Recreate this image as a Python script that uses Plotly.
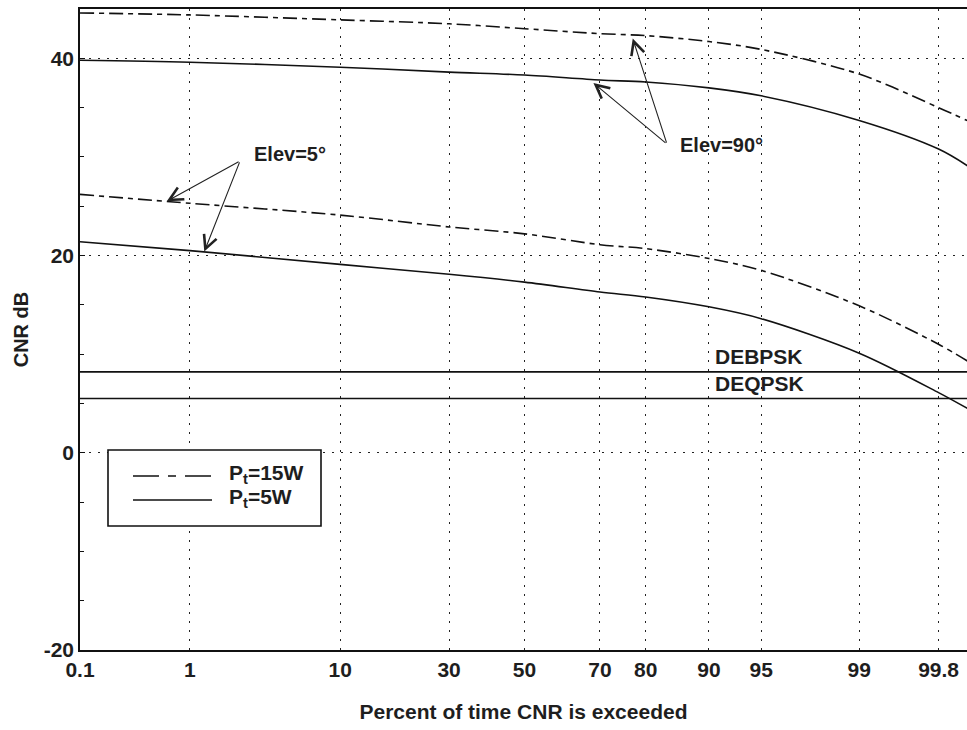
from statistics import NormalDist
import plotly.graph_objects as go

# ---------------- data ----------------
pct = [0.1, 1, 10, 30, 50, 70, 80, 90, 95, 99, 99.8, 99.9]
cnr_elev90_15w = [44.6, 44.4, 43.9, 43.5, 43.0, 42.5, 42.3, 41.7, 40.9, 38.4, 35.0, 33.6]
cnr_elev90_5w = [39.8, 39.6, 39.1, 38.6, 38.3, 37.8, 37.6, 37.0, 36.2, 33.7, 30.8, 29.0]
cnr_elev5_15w = [26.2, 25.3, 24.1, 22.9, 22.2, 21.1, 20.7, 19.7, 18.5, 14.9, 11.0, 9.2]
cnr_elev5_5w = [21.4, 20.5, 19.1, 18.1, 17.3, 16.3, 15.8, 14.8, 13.6, 10.1, 6.1, 4.4]

thr_names = ["DEBPSK", "DEQPSK"]
thr_values = [8.2, 5.5]

tick_pct = [0.1, 1, 10, 30, 50, 70, 80, 90, 95, 99, 99.8]
tick_text = ["0.1", "1", "10", "30", "50", "70", "80", "90", "95", "99", "99.8"]
y_ticks = [-20, 0, 20, 40]
y_tick_text = ["-20", "0", "20", "40"]

legend_labels = ["P<sub>t</sub>=15W", "P<sub>t</sub>=5W"]

# ---------------- helpers ----------------
nd = NormalDist()


def z(p):
    return nd.inv_cdf(p / 100.0)


zx = [z(p) for p in pct]

DASHDOT = "14px,5px,5px,5px"
LINE_COLOR = "#111111"
FONT = "Liberation Sans, Arial, sans-serif"
TXT = "#1e1e1e"

fig = go.Figure()

curves = [
    (cnr_elev90_15w, DASHDOT),
    (cnr_elev90_5w, "solid"),
    (cnr_elev5_15w, DASHDOT),
    (cnr_elev5_5w, "solid"),
]
for vals, dash in curves:
    fig.add_trace(go.Scatter(
        x=zx, y=vals, mode="lines",
        line=dict(color=LINE_COLOR, width=1.6, dash=dash, shape="spline", smoothing=0.9),
        showlegend=False, hoverinfo="skip",
    ))

for name, val in zip(thr_names, thr_values):
    fig.add_trace(go.Scatter(
        x=[zx[0], zx[-1]], y=[val, val], mode="lines",
        line=dict(color=LINE_COLOR, width=1.6),
        showlegend=False, hoverinfo="skip",
    ))

annotations = []
# threshold labels
for name, val in zip(thr_names, thr_values):
    annotations.append(dict(
        x=z(90.5), y=val, xref="x", yref="y", text="<b>%s</b>" % name,
        showarrow=False, xanchor="left", yanchor="bottom", yshift=2,
        font=dict(family=FONT, size=21, color=TXT),
    ))

# Elev labels
annotations.append(dict(x=z(5.17), y=30.3, xref="x", yref="y", text="<b>Elev=5°</b>",
                        showarrow=False, font=dict(family=FONT, size=20, color=TXT)))
annotations.append(dict(x=z(91.5), y=31.2, xref="x", yref="y", text="<b>Elev=90°</b>",
                        showarrow=False, font=dict(family=FONT, size=20, color=TXT)))

# arrows: (head pct, head value, tail pct, tail value)
arrows = [
    (0.644, 25.5, 2.40, 29.6),
    (1.30, 20.4, 2.40, 29.6),
    (77.4, 42.0, 83.9, 31.3),
    (68.4, 37.5, 83.9, 31.3),
]
for hp, hv, tp, tv in arrows:
    annotations.append(dict(
        x=z(hp), y=hv, ax=z(tp), ay=tv, xref="x", yref="y", axref="x", ayref="y",
        text="", showarrow=True, arrowhead=5, arrowsize=2.4, arrowwidth=1.1,
        arrowcolor="#222",
    ))


# manual legend (paper coords; plot area 80..967 x 9..650 px)
def px_x(p):
    return (p - 80) / 887.0


def px_y(p):
    return (650 - p) / 641.0


shapes = [
    dict(type="rect", xref="paper", yref="paper",
         x0=px_x(108), x1=px_x(321), y0=px_y(526), y1=px_y(450),
         line=dict(color="#111", width=1.6), fillcolor="white", layer="above"),
    dict(type="line", xref="paper", yref="paper",
         x0=px_x(133), x1=px_x(212), y0=px_y(476), y1=px_y(476),
         line=dict(color="#111", width=1.6, dash="26px,9px,8px,9px"), layer="above"),
    dict(type="line", xref="paper", yref="paper",
         x0=px_x(133), x1=px_x(212), y0=px_y(500), y1=px_y(500),
         line=dict(color="#111", width=1.6), layer="above"),
]
for lab, yy in zip(legend_labels, [474, 498]):
    annotations.append(dict(
        x=px_x(227), y=px_y(yy), xref="paper", yref="paper", text="<b>%s</b>" % lab,
        showarrow=False, xanchor="left", yanchor="middle",
        font=dict(family=FONT, size=21, color=TXT),
    ))

fig.update_layout(
    width=967, height=730,
    margin=dict(l=80, r=0, t=9, b=80),
    paper_bgcolor="white", plot_bgcolor="white",
    font=dict(family=FONT, color=TXT),
    showlegend=False,
    annotations=annotations,
    shapes=shapes,
)

fig.update_xaxes(
    range=[z(0.1), z(99.895)],
    tickvals=[z(p) for p in tick_pct], ticktext=tick_text,
    tickfont=dict(family=FONT, size=21, color=TXT, weight="bold"),
    showgrid=True, gridcolor="#222", gridwidth=1.3, griddash="2px,7px",
    showline=True, linecolor="#111", linewidth=1.6, mirror=True,
    ticks="", zeroline=False,
    title=dict(text="<b>Percent of time CNR is exceeded</b>",
               font=dict(family=FONT, size=21, color=TXT), standoff=24),
)
fig.update_yaxes(
    range=[-20, 45],
    tickvals=y_ticks, ticktext=y_tick_text,
    tickfont=dict(family=FONT, size=21, color=TXT, weight="bold"),
    showgrid=True, gridcolor="#222", gridwidth=1.3, griddash="2px,7px",
    showline=True, linecolor="#111", linewidth=1.6, mirror=False,
    ticks="inside", ticklen=5, tickcolor="#111",
    minor=dict(dtick=5, tick0=0, ticks="inside", ticklen=4, tickcolor="#111", showgrid=False),
    zeroline=False,
    title=dict(text="<b>CNR dB</b>", font=dict(family=FONT, size=20, color=TXT), standoff=10),
)

fig.write_html("out.html")
